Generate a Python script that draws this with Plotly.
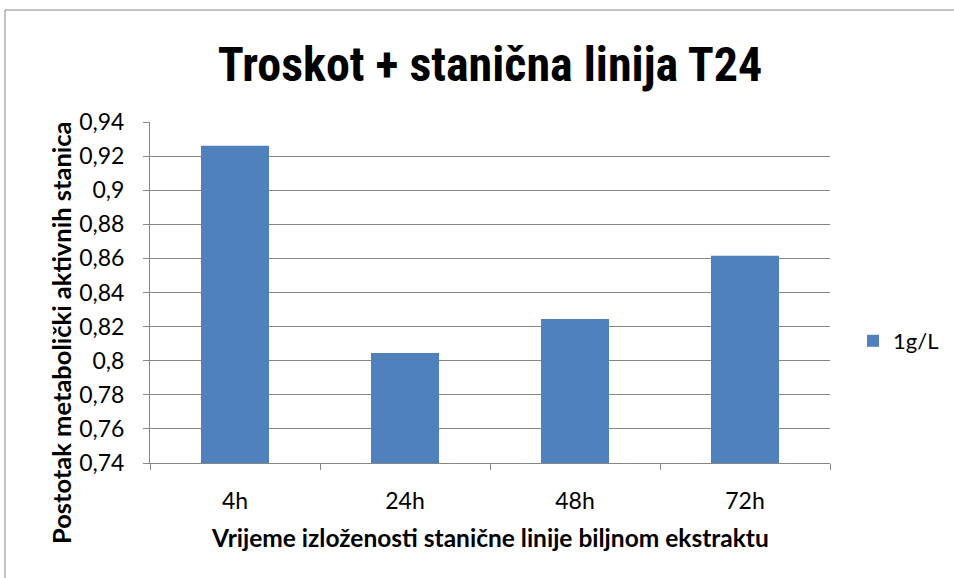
import plotly.graph_objects as go

categories = ["4h", "24h", "48h", "72h"]
values = [0.926, 0.8045, 0.8245, 0.8615]
series_name = "1g/L"
y_ticks = [0.74, 0.76, 0.78, 0.80, 0.82, 0.84, 0.86, 0.88, 0.90, 0.92, 0.94]
y_tick_labels = ["0,74", "0,76", "0,78", "0,8", "0,82", "0,84", "0,86", "0,88", "0,9", "0,92", "0,94"]
title_text = "Troskot + stanična linija T24"
x_title = "Vrijeme izloženosti stanične linije biljnom ekstraktu"
y_title = "Postotak metabolički aktivnih stanica"

W, H = 954, 578
L, R, T, B = 150, 124, 122, 115
pw, ph = W - L - R, H - T - B

narrow = "Roboto Condensed, Liberation Sans Narrow, sans-serif"
body = "Lato, Open Sans, sans-serif"

fig = go.Figure()
fig.add_trace(go.Bar(x=categories, y=values, name=series_name,
                     marker=dict(color="#4F81BD", line=dict(width=0)),
                     width=0.4, showlegend=True))

fig.update_layout(
    width=W, height=H,
    margin=dict(l=L, r=R, t=T, b=B, autoexpand=False),
    paper_bgcolor="white", plot_bgcolor="white",
    title=dict(text="<b>" + title_text + "</b>", x=490 / W, xanchor="center",
               y=1 - 64 / H, yanchor="middle",
               font=dict(family=narrow, size=48, color="black")),
    font=dict(family=body, size=23, color="black"),
    xaxis=dict(type="category", tickson="boundaries", ticks="outside", ticklen=6,
               tickcolor="#868686", showline=True, linecolor="#868686", linewidth=1,
               showgrid=False, tickfont=dict(family=body, size=23), ticklabelstandoff=17,
               automargin=False),
    yaxis=dict(range=[0.74, 0.94], tickvals=y_ticks, ticktext=y_tick_labels,
               ticks="outside", ticklen=6, tickcolor="#868686",
               showline=True, linecolor="#868686", linewidth=1,
               showgrid=True, gridcolor="#868686", gridwidth=1, zeroline=False,
               tickfont=dict(family=body, size=23), ticklabelstandoff=14,
               automargin=False),
    legend=dict(x=(853 - L) / pw, y=1 - (341 - T) / ph, xanchor="left", yanchor="middle",
                font=dict(family=body, size=22), bgcolor="rgba(0,0,0,0)",
                itemwidth=30),
    bargap=0.6,
    annotations=[
        dict(text="<b>" + x_title + "</b>", xref="paper", yref="paper",
             x=(490 - L) / pw, y=1 - (537 - T) / ph, xanchor="center", yanchor="middle",
             showarrow=False, font=dict(family=body, size=24.5, color="black")),
        dict(text="<b>" + y_title + "</b>", xref="paper", yref="paper",
             x=(61 - L) / pw, y=1 - (333 - T) / ph, xanchor="center", yanchor="middle",
             textangle=-90, showarrow=False, font=dict(family=body, size=25.5, color="black")),
    ],
)

# outer chart border
fig.add_shape(type="rect", xref="paper", yref="paper",
              x0=(5 - L) / pw, x1=(W + 60 - L) / pw,
              y0=1 - (H + 60 - T) / ph, y1=1 - (10 - T) / ph,
              line=dict(color="#868686", width=1), fillcolor="rgba(0,0,0,0)", layer="below")

fig.write_html("out.html", config={"displayModeBar": False},
               post_script="document.body.style.margin='0';")
